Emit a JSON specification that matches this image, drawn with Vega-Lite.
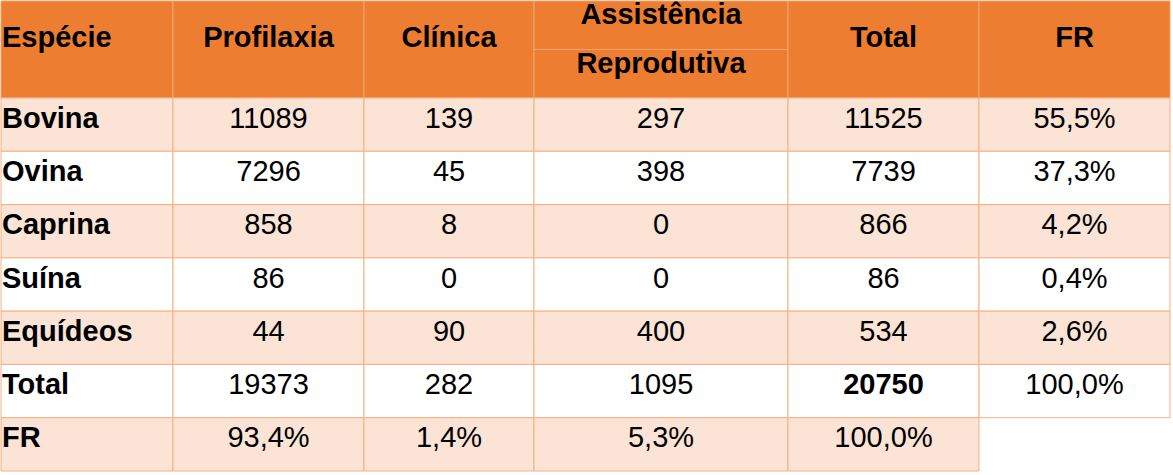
{
  "$schema": "https://vega.github.io/schema/vega-lite/v6.json",
  "padding": 0,
  "background": "#ffffff",
  "bounds": "flush",
  "config": {"view": {"stroke": null}, "concat": {"spacing": 0}},
  "datasets": {
    "hdr": [
      {"col": "especie", "line": "1", "label": "Espécie"},
      {"col": "profilaxia", "line": "1", "label": "Profilaxia"},
      {"col": "clinica", "line": "1", "label": "Clínica"},
      {"col": "assistencia", "line": "1", "label": "Assistência"},
      {"col": "assistencia", "line": "2", "label": "Reprodutiva"},
      {"col": "total", "line": "1", "label": "Total"},
      {"col": "fr", "line": "1", "label": "FR"}
    ],
    "tbl": [
      {"especie": "Bovina", "profilaxia": "11089", "clinica": "139", "assistencia": "297", "total": "11525", "fr": "55,5%"},
      {"especie": "Ovina", "profilaxia": "7296", "clinica": "45", "assistencia": "398", "total": "7739", "fr": "37,3%"},
      {"especie": "Caprina", "profilaxia": "858", "clinica": "8", "assistencia": "0", "total": "866", "fr": "4,2%"},
      {"especie": "Suína", "profilaxia": "86", "clinica": "0", "assistencia": "0", "total": "86", "fr": "0,4%"},
      {"especie": "Equídeos", "profilaxia": "44", "clinica": "90", "assistencia": "400", "total": "534", "fr": "2,6%"},
      {"especie": "Total", "profilaxia": "19373", "clinica": "282", "assistencia": "1095", "total": "20750", "fr": "100,0%"},
      {"especie": "FR", "profilaxia": "93,4%", "clinica": "1,4%", "assistencia": "5,3%", "total": "100,0%", "fr": null}
    ]
  },
  "columns": 6,
  "spacing": 0,
  "concat": [
    {
      "width": 172, "height": 97,
      "data": {"name": "hdr"},
      "transform": [{"filter": "datum.col === 'especie'"}],
      "layer": [
        {"mark": {"type": "rect", "fill": "#ED7D31", "stroke": "#F3A46C", "strokeWidth": 1},
         "encoding": {"x": {"value": 0}, "x2": {"value": "width"}, "y": {"value": 0}, "y2": {"value": "height"}}},
        {"mark": {"type": "text", "font": "Liberation Sans", "fontSize": 29, "fontWeight": "bold", "baseline": "alphabetic", "align": "left", "dx": 1, "dy": -3, "color": "#000000"},
         "encoding": {"x": {"value": 0}, "text": {"field": "label"}}}
      ]
    },
    {
      "width": 191, "height": 97,
      "data": {"name": "hdr"},
      "transform": [{"filter": "datum.col === 'profilaxia'"}],
      "layer": [
        {"mark": {"type": "rect", "fill": "#ED7D31", "stroke": "#F3A46C", "strokeWidth": 1},
         "encoding": {"x": {"value": 0}, "x2": {"value": "width"}, "y": {"value": 0}, "y2": {"value": "height"}}},
        {"mark": {"type": "text", "font": "Liberation Sans", "fontSize": 29, "fontWeight": "bold", "baseline": "alphabetic", "dy": -3, "color": "#000000"},
         "encoding": {"text": {"field": "label"}}}
      ]
    },
    {
      "width": 170, "height": 97,
      "data": {"name": "hdr"},
      "transform": [{"filter": "datum.col === 'clinica'"}],
      "layer": [
        {"mark": {"type": "rect", "fill": "#ED7D31", "stroke": "#F3A46C", "strokeWidth": 1},
         "encoding": {"x": {"value": 0}, "x2": {"value": "width"}, "y": {"value": 0}, "y2": {"value": "height"}}},
        {"mark": {"type": "text", "font": "Liberation Sans", "fontSize": 29, "fontWeight": "bold", "baseline": "alphabetic", "dy": -3, "color": "#000000"},
         "encoding": {"text": {"field": "label"}}}
      ]
    },
    {
      "width": 254, "height": 97,
      "data": {"name": "hdr"},
      "transform": [{"filter": "datum.col === 'assistencia'"}],
      "encoding": {"y": {"field": "line", "type": "nominal", "axis": null, "scale": {"domain": ["1", "2"], "paddingInner": 0, "paddingOuter": 0}}},
      "layer": [
        {"mark": {"type": "rect", "fill": "#ED7D31", "stroke": "#F3A46C", "strokeWidth": 1},
         "transform": [{"filter": "datum.line === '1'"}],
         "encoding": {"x": {"value": 0}, "x2": {"value": "width"}, "y": {"value": 0}, "y2": {"value": "height"}}},
        {"mark": {"type": "rule", "stroke": "#F3A46C", "strokeWidth": 1},
         "transform": [{"filter": "datum.line === '2'"}],
         "encoding": {"x": {"value": 0}, "x2": {"value": "width"}, "y": {"field": "line", "type": "nominal", "bandPosition": 0}}},
        {"mark": {"type": "text", "font": "Liberation Sans", "fontSize": 29, "fontWeight": "bold", "baseline": "alphabetic", "dy": -1, "color": "#000000"},
         "encoding": {"text": {"field": "label"}}}
      ]
    },
    {
      "width": 191, "height": 97,
      "data": {"name": "hdr"},
      "transform": [{"filter": "datum.col === 'total'"}],
      "layer": [
        {"mark": {"type": "rect", "fill": "#ED7D31", "stroke": "#F3A46C", "strokeWidth": 1},
         "encoding": {"x": {"value": 0}, "x2": {"value": "width"}, "y": {"value": 0}, "y2": {"value": "height"}}},
        {"mark": {"type": "text", "font": "Liberation Sans", "fontSize": 29, "fontWeight": "bold", "baseline": "alphabetic", "dy": -3, "color": "#000000"},
         "encoding": {"text": {"field": "label"}}}
      ]
    },
    {
      "width": 191, "height": 97,
      "data": {"name": "hdr"},
      "transform": [{"filter": "datum.col === 'fr'"}],
      "layer": [
        {"mark": {"type": "rect", "fill": "#ED7D31", "stroke": "#F3A46C", "strokeWidth": 1},
         "encoding": {"x": {"value": 0}, "x2": {"value": "width"}, "y": {"value": 0}, "y2": {"value": "height"}}},
        {"mark": {"type": "text", "font": "Liberation Sans", "fontSize": 29, "fontWeight": "bold", "baseline": "alphabetic", "dy": -3, "color": "#000000"},
         "encoding": {"text": {"field": "label"}}}
      ]
    },
    {
      "width": 172, "height": 373,
      "data": {"name": "tbl"},
      "encoding": {"y": {"field": "especie", "type": "nominal", "sort": null, "axis": null,
        "scale": {"domain": ["Bovina", "Ovina", "Caprina", "Suína", "Equídeos", "Total", "FR"], "paddingInner": 0, "paddingOuter": 0}}},
      "layer": [
        {"mark": {"type": "rect", "stroke": "#F4B083", "strokeWidth": 1},
         "encoding": {"x": {"value": 0}, "x2": {"value": "width"},
           "color": {"field": "especie", "type": "nominal", "legend": null,
             "scale": {"domain": ["Bovina", "Ovina", "Caprina", "Suína", "Equídeos", "Total", "FR"], "range": ["#FBE4D5", "#FFFFFF", "#FBE4D5", "#FFFFFF", "#FBE4D5", "#FFFFFF", "#FBE4D5"]}}}},
        {"mark": {"type": "text", "font": "Liberation Sans", "fontSize": 29, "fontWeight": "bold", "baseline": "alphabetic", "align": "left", "dx": 1, "dy": 3, "color": "#000000"},
         "encoding": {"x": {"value": 0}, "text": {"field": "especie"}}}
      ]
    },
    {
      "width": 191, "height": 373,
      "data": {"name": "tbl"},
      "encoding": {"y": {"field": "especie", "type": "nominal", "sort": null, "axis": null,
        "scale": {"domain": ["Bovina", "Ovina", "Caprina", "Suína", "Equídeos", "Total", "FR"], "paddingInner": 0, "paddingOuter": 0}}},
      "layer": [
        {"mark": {"type": "rect", "stroke": "#F4B083", "strokeWidth": 1},
         "encoding": {"x": {"value": 0}, "x2": {"value": "width"},
           "color": {"field": "especie", "type": "nominal", "legend": null,
             "scale": {"domain": ["Bovina", "Ovina", "Caprina", "Suína", "Equídeos", "Total", "FR"], "range": ["#FBE4D5", "#FFFFFF", "#FBE4D5", "#FFFFFF", "#FBE4D5", "#FFFFFF", "#FBE4D5"]}}}},
        {"mark": {"type": "text", "font": "Liberation Sans", "fontSize": 29, "baseline": "alphabetic", "dy": 3, "color": "#000000"},
         "encoding": {"text": {"field": "profilaxia"}}}
      ]
    },
    {
      "width": 170, "height": 373,
      "data": {"name": "tbl"},
      "encoding": {"y": {"field": "especie", "type": "nominal", "sort": null, "axis": null,
        "scale": {"domain": ["Bovina", "Ovina", "Caprina", "Suína", "Equídeos", "Total", "FR"], "paddingInner": 0, "paddingOuter": 0}}},
      "layer": [
        {"mark": {"type": "rect", "stroke": "#F4B083", "strokeWidth": 1},
         "encoding": {"x": {"value": 0}, "x2": {"value": "width"},
           "color": {"field": "especie", "type": "nominal", "legend": null,
             "scale": {"domain": ["Bovina", "Ovina", "Caprina", "Suína", "Equídeos", "Total", "FR"], "range": ["#FBE4D5", "#FFFFFF", "#FBE4D5", "#FFFFFF", "#FBE4D5", "#FFFFFF", "#FBE4D5"]}}}},
        {"mark": {"type": "text", "font": "Liberation Sans", "fontSize": 29, "baseline": "alphabetic", "dy": 3, "color": "#000000"},
         "encoding": {"text": {"field": "clinica"}}}
      ]
    },
    {
      "width": 254, "height": 373,
      "data": {"name": "tbl"},
      "encoding": {"y": {"field": "especie", "type": "nominal", "sort": null, "axis": null,
        "scale": {"domain": ["Bovina", "Ovina", "Caprina", "Suína", "Equídeos", "Total", "FR"], "paddingInner": 0, "paddingOuter": 0}}},
      "layer": [
        {"mark": {"type": "rect", "stroke": "#F4B083", "strokeWidth": 1},
         "encoding": {"x": {"value": 0}, "x2": {"value": "width"},
           "color": {"field": "especie", "type": "nominal", "legend": null,
             "scale": {"domain": ["Bovina", "Ovina", "Caprina", "Suína", "Equídeos", "Total", "FR"], "range": ["#FBE4D5", "#FFFFFF", "#FBE4D5", "#FFFFFF", "#FBE4D5", "#FFFFFF", "#FBE4D5"]}}}},
        {"mark": {"type": "text", "font": "Liberation Sans", "fontSize": 29, "baseline": "alphabetic", "dy": 3, "color": "#000000"},
         "encoding": {"text": {"field": "assistencia"}}}
      ]
    },
    {
      "width": 191, "height": 373,
      "data": {"name": "tbl"},
      "encoding": {"y": {"field": "especie", "type": "nominal", "sort": null, "axis": null,
        "scale": {"domain": ["Bovina", "Ovina", "Caprina", "Suína", "Equídeos", "Total", "FR"], "paddingInner": 0, "paddingOuter": 0}}},
      "layer": [
        {"mark": {"type": "rect", "stroke": "#F4B083", "strokeWidth": 1},
         "encoding": {"x": {"value": 0}, "x2": {"value": "width"},
           "color": {"field": "especie", "type": "nominal", "legend": null,
             "scale": {"domain": ["Bovina", "Ovina", "Caprina", "Suína", "Equídeos", "Total", "FR"], "range": ["#FBE4D5", "#FFFFFF", "#FBE4D5", "#FFFFFF", "#FBE4D5", "#FFFFFF", "#FBE4D5"]}}}},
        {"mark": {"type": "text", "font": "Liberation Sans", "fontSize": 29, "baseline": "alphabetic", "dy": 3, "color": "#000000"},
         "transform": [{"filter": "datum.especie !== 'Total'"}],
         "encoding": {"text": {"field": "total"}}},
        {"mark": {"type": "text", "font": "Liberation Sans", "fontSize": 29, "fontWeight": "bold", "baseline": "alphabetic", "dy": 3, "color": "#000000"},
         "transform": [{"filter": "datum.especie === 'Total'"}],
         "encoding": {"text": {"field": "total"}}}
      ]
    },
    {
      "width": 191, "height": 373,
      "data": {"name": "tbl"},
      "transform": [{"filter": "datum.fr != null"}],
      "encoding": {"y": {"field": "especie", "type": "nominal", "sort": null, "axis": null,
        "scale": {"domain": ["Bovina", "Ovina", "Caprina", "Suína", "Equídeos", "Total", "FR"], "paddingInner": 0, "paddingOuter": 0}}},
      "layer": [
        {"mark": {"type": "rect", "stroke": "#F4B083", "strokeWidth": 1},
         "encoding": {"x": {"value": 0}, "x2": {"value": "width"},
           "color": {"field": "especie", "type": "nominal", "legend": null,
             "scale": {"domain": ["Bovina", "Ovina", "Caprina", "Suína", "Equídeos", "Total", "FR"], "range": ["#FBE4D5", "#FFFFFF", "#FBE4D5", "#FFFFFF", "#FBE4D5", "#FFFFFF", "#FBE4D5"]}}}},
        {"mark": {"type": "text", "font": "Liberation Sans", "fontSize": 29, "baseline": "alphabetic", "dy": 3, "color": "#000000"},
         "encoding": {"text": {"field": "fr"}}}
      ]
    }
  ]
}
